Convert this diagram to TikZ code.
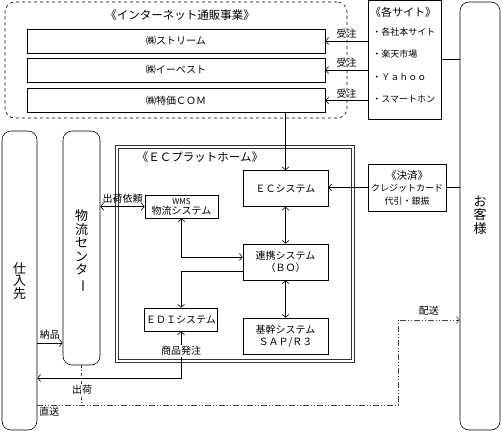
\documentclass[tikz,border=0pt]{standalone}
\usepackage{fontspec}
\setmainfont{Noto Sans CJK JP}
\usepackage{tikz}
\usetikzlibrary{calc, arrows.meta}
\tikzstyle{bar}=[draw, minimum width=298pt, minimum height=24pt, inner sep=0pt]
\tikzstyle{sys}=[draw, minimum width=85pt, minimum height=36pt, align=center, inner sep=0pt]
\tikzstyle{small}=[draw, minimum width=73pt, minimum height=23pt, align=center, inner sep=0pt]
\tikzstyle{pillar}=[draw, rounded corners=9pt, align=center, inner sep=0pt]
\tikzstyle{title}=[font=\fontsize{11.5}{13}\selectfont]
\tikzstyle{item}=[anchor=west, font=\fontsize{9}{11}\selectfont, inner sep=0pt]
\tikzstyle{tag}=[font=\fontsize{10}{12}\selectfont, inner sep=1pt]
\tikzstyle{direct}=[draw=black!75, dash pattern=on 6pt off 2pt on 1pt off 2pt on 1pt off 2pt]

\begin{document}
\begin{tikzpicture}[x=1pt,y=-1pt,>={Straight Barb[length=3pt,width=7pt]},line width=0.6pt,
    font=\fontsize{10}{12}\selectfont]
  \useasboundingbox (0,0) rectangle (502,432);
  % internet shops
  \node [draw, dashed, rounded corners=10pt, minimum width=342pt, minimum height=116pt] (net) at (176,60) {};
  \node [title] (nettitle) at (180,15) {《インターネット通販事業》};
  \node [bar] (b1) at (176,41) {㈱ストリーム};
  \node [bar] (b2) at (176,70) {㈱イーベスト};
  \node [bar] (b3) at (176,100.5) {㈱特価ＣＯＭ};
  % sites
  \node [draw, minimum width=73pt, minimum height=119pt] (sites) at (404.5,59.5) {};
  \node [title, font=\fontsize{11}{13}\selectfont] (sitetitle) at (403,12) {《各サイト》};
  \node [item] (s1) at (372,32) {・各社本サイト};
  \node [item] (s2) at (372,54) {・楽天市場};
  \node [item] (s3) at (372,77) {・Ｙａｈｏｏ};
  \node [item] (s4) at (372,99) {・スマートホン};
  % customer, suppliers, distribution center
  \node [pillar, minimum width=40pt, minimum height=428pt] (cust) at (480,216) {};
  \node [font=\fontsize{13}{13.5}\selectfont, align=center] (custtext) at (480,215) {お\\客\\様};
  \node [pillar, minimum width=35pt, minimum height=299pt] (sup) at (19.5,280.5) {};
  \node [font=\fontsize{13}{12.5}\selectfont, align=center] (suptext) at (19.5,281) {仕\\入\\先};
  \node [pillar, minimum width=37pt, minimum height=234pt] (dc) at (81.5,248) {};
  \node [font=\fontsize{13}{13.5}\selectfont, align=center] (dctext) at (81.5,251)
    {物\\流\\セ\\ン\\タ\\\rotatebox[origin=c]{-90}{ー}};
  % EC platform
  \node [draw=black!80, double=white, double distance=2.5pt, line width=0.8pt, minimum width=236pt, minimum height=214pt] (ecp) at (235,254) {};
  \node [title] (ectitle) at (200,157) {《ＥＣプラットホーム》};
  \node [sys] (ec) at (285.5,188.5) {ＥＣシステム};
  \node [sys] (bo) at (285.5,262) {連携システム\\（ＢＯ）};
  \node [sys] (sap) at (285.5,336) {基幹システム\\ＳＡＰ/Ｒ３};
  \node [small, font=\fontsize{10}{10}\selectfont] (wms) at (181.5,206.5) {{\fontsize{8}{8}\selectfont WMS}\\物流システム};
  \node [small] (edi) at (181,319.5) {ＥＤＩシステム};
  % payment
  \node [draw, minimum width=78pt, minimum height=47pt, align=center, inner sep=0pt,
    font=\fontsize{9}{12.5}\selectfont] (pay) at (407,187.5) {{\fontsize{10.5}{12.5}\selectfont《決済》}\\クレジットカード\\代引・銀振};
  % connectors
  \draw[->] (b1.east -| sites.west) -- (b1.east) node[midway, above=1pt, tag] {受注};
  \draw[->] (b2.east -| sites.west) -- (b2.east) node[midway, above=1pt, tag] {受注};
  \draw[->] (b3.east -| sites.west) -- (b3.east) node[midway, above=1pt, tag] {受注};
  \draw (sites.east) -- (sites.east -| cust.west);
  \draw[->] (ec.north |- b3.south) -- (ec.north);
  \draw[->] (pay.west) -- (pay.west -| ec.east);
  \draw (pay.east) -- (pay.east -| cust.west);
  \draw[<->] (wms.west -| dc.east) -- (wms.west) node[midway, above=2pt, tag] {出荷依頼};
  \draw[<->] (wms.south) |- ([yshift=5pt]bo.west);
  \draw[->] ([yshift=-9pt]bo.west) -| (edi.north);
  \draw[<->] (ec.south) -- (bo.north);
  \draw[<->] (bo.south) -- (sap.north);
  \coordinate (order) at (181,378);
  \draw[<->] (edi.south) |- (order -| sup.east);
  \node [tag, fill=white] (ordertext) at (181,351) {商品発注};
  \coordinate (nouhin) at (37,343);
  \draw[->] (nouhin) -- (nouhin -| dc.west) node[midway, above=2pt, tag] {納品};
  \coordinate (chokuso) at (37,405);
  \coordinate (haiso) at (398,320);
  \draw[direct, ->] (chokuso) node[below right=1pt, tag] {直送} -| (haiso)
    -- (haiso -| cust.west) node[midway, above=3pt, tag] {配送};
  \draw[draw=black!75, dash pattern=on 3pt off 2pt on 1pt off 2pt] (dc.south) -- (dc.south |- chokuso);
  \node [tag, fill=white] (shukka) at (82,390) {出荷};
\end{tikzpicture}
\end{document}
